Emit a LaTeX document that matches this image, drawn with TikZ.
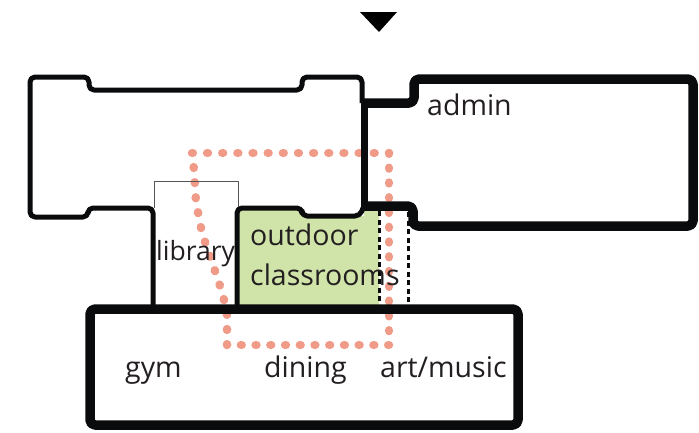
\documentclass[tikz,border=0pt]{standalone}
\usepackage{fontspec}
\setmainfont{Open Sans}
\usetikzlibrary{positioning}
\definecolor{courtgreen}{HTML}{D0E4A9}
\definecolor{routepink}{HTML}{F09A88}
\definecolor{labelgray}{HTML}{231F20}
\definecolor{wallblack}{HTML}{0A0B0C}

\begin{document}
\begin{tikzpicture}
[x=1pt, y=-1pt, font=\fontsize{28.5}{28.5}\selectfont, text=labelgray, line join=round,
wall/.style={draw=wallblack, rounded corners=5pt},
thinwall/.style={wall, line width=5pt},
thickwall/.style={wall, line width=9.5pt},
partition/.style={draw=wallblack, line width=3pt, dash pattern=on 5pt off 3.5pt},
route/.style={draw=routepink, line width=8.5pt, line cap=round, dash pattern=on 0.8pt off #1},
room/.style={inner sep=0pt, anchor=base west}]

\useasboundingbox (0,0) rectangle (699,432);

% courtyard
\fill[courtgreen] (237,208) -- (302,208) -- (302,216) -- (364,216) -- (364,208) -- (379,208) -- (379,306) -- (237,306) -- cycle;

% route through the school
\draw[route=14.35pt] (192,153) -- (389,153);
\draw[route=13.97pt] (389,153) -- (389,345);
\draw[route=13.93pt] (389,345) -- (227,345);
\draw[route=14.33pt] (227,345) -- (227,315) -- (223,295) -- (213,265) -- (202,233) -- (196,202) -- (194,170) -- (192,153);

% library roof
\draw[line width=1pt, draw=wallblack!70] (154,208) -- (154,181) -- (238,181) -- (238,208);

% classroom wing
\draw[thinwall] (153,308) -- (153,208) -- (88,208) -- (88,217) -- (30,217) -- (30,77) -- (89,77) -- (89,90)
  -- (302,90) -- (302,77) -- (362,77) -- (362,103);
\draw[thinwall] (237,308) -- (237,208) -- (302,208) -- (302,216) -- (360,216) -- (363,208);

% admin
\draw[line width=7.5pt, draw=wallblack] (364.5,100) -- (364.5,209);
\draw[thickwall] (364,103) -- (414,103) -- (414,79) -- (693,79) -- (693,226) -- (413,226) -- (413,206) -- (362,206);

% passage
\draw[partition] (379,211) -- (379,306);
\draw[partition] (408,212) -- (408,306);

% gym, dining, art
\draw[thickwall] (90,309) rectangle (518,425);

% entry marker
\fill[black] (360,12) -- (397,12) -- (379,32) -- cycle;

\node[room] (admin) at (427,115) {admin};
\node[room, font=\fontsize{26.5}{26.5}\selectfont] (library) at (156,260) {library};
\node[room] (outdoor) at (250,245) {outdoor};
\node[room] (classrooms) at (250,285) {classrooms};
\node[room] (gym) at (125,377) {gym};
\node[room] (dining) at (264,377) {dining};
\node[room] (artmusic) at (380,377) {art/music};
\end{tikzpicture}
\end{document}
